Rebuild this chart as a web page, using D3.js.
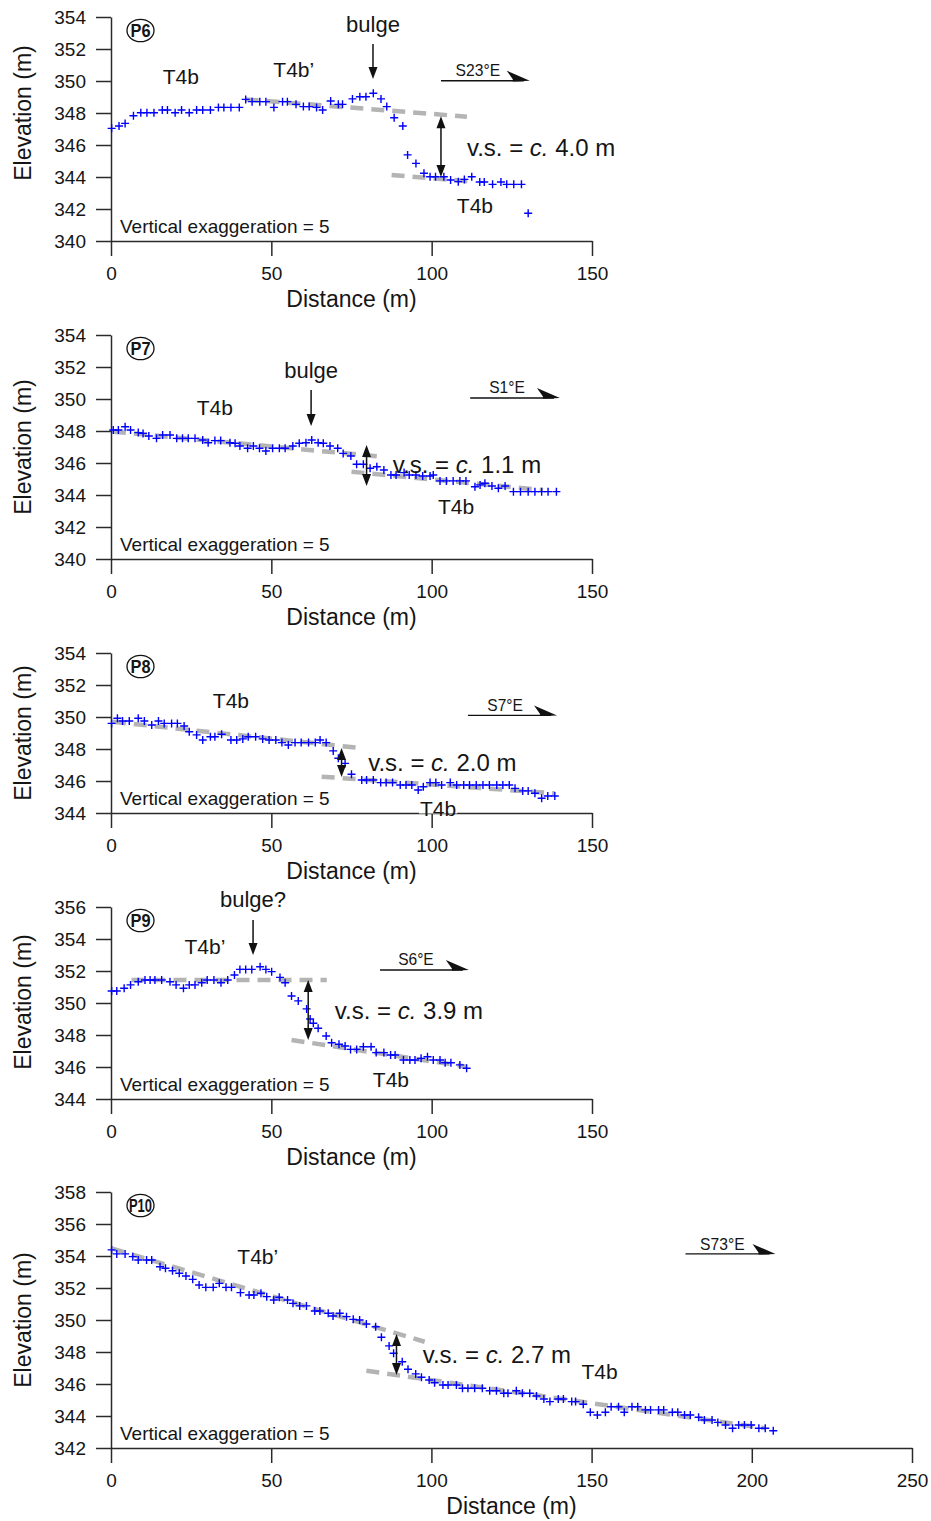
<!DOCTYPE html>
<html><head><meta charset="utf-8">
<script src="https://cdn.jsdelivr.net/npm/d3@7"></script>
<style>
body{margin:0;background:#fff}
svg{display:block}
text{font-family:"Liberation Sans",Arial,Helvetica,sans-serif;fill:#151515}
</style>
</head><body><svg id="c" width="931" height="1521"></svg>
<script>
// ---------------- DATA ----------------
const p6Points = [[0.2,347.04],[2.5,347.19],[4.4,347.35],[7,347.83],[9.3,348.02],[11.2,348.02],[13.4,348.02],[16,348.19],[17.6,348.19],[20,348.02],[22,348.19],[24.4,348.02],[26.7,348.19],[28.6,348.19],[31,348.19],[33.5,348.35],[35.2,348.35],[37.4,348.35],[40,348.35],[42,348.85],[44,348.71],[46.4,348.71],[48.3,348.71],[50.8,348.35],[53.5,348.71],[55,348.71],[57.7,348.54],[60,348.4],[61.8,348.4],[64.1,348.35],[66,348.19],[68.5,348.75],[70.9,348.54],[72.2,348.54],[75.3,348.88],[77.6,349.02],[79.5,349.02],[81.8,349.23],[84.2,348.88],[86,348.4],[88.3,347.7],[91,347.19],[92.5,345.38],[95.1,344.85],[97.6,344.23],[99.5,344.02],[101.2,344.02],[103.8,344.02],[105.9,343.81],[108.3,343.71],[110.2,343.85],[112.5,344.02],[115,343.69],[116.4,343.69],[119,343.54],[121.6,343.69],[123.4,343.54],[125.6,343.54],[128,343.54],[130.1,341.73]];
const p7Points = [[0.7,348.06],[2.3,348.06],[4.4,348.27],[6.1,348.06],[8.5,347.9],[10,347.85],[11.8,347.69],[14.2,347.54],[16.1,347.75],[18.4,347.75],[20.5,347.54],[22.3,347.54],[24.1,347.54],[26.2,347.54],[28.6,347.44],[30.3,347.27],[32.4,347.4],[34.2,347.4],[37.1,347.27],[38.7,347.23],[40.2,347.06],[42.6,346.92],[44.4,347.06],[46.3,346.92],[48.3,346.75],[50.4,346.92],[52.5,346.92],[54.3,346.92],[56.7,347.06],[58.7,347.23],[60.8,347.27],[62.6,347.44],[64.6,347.27],[66.2,347.23],[68.3,347.06],[70.7,346.92],[72.4,346.6],[74.8,346.44],[76.6,345.92],[78.7,345.92],[80.8,345.67],[82.9,345.77],[85.1,345.56],[87.3,345.25],[88.9,345.25],[91.4,345.4],[93,345.25],[95.1,345.25],[97.2,345.19],[99.5,345.19],[100.5,345.25],[102.6,344.88],[104.6,344.88],[106.7,344.88],[108.8,344.88],[110.7,344.88],[113.5,344.52],[115.1,344.63],[116.6,344.73],[118.8,344.56],[120.8,344.42],[122.9,344.56],[125.5,344.21],[127.7,344.21],[130.1,344.21],[132.2,344.21],[134.3,344.21],[136.3,344.21],[138.9,344.21]];
const p8Points = [[0.2,349.6],[2,349.92],[3.6,349.75],[5.7,349.75],[8.5,349.92],[10.4,349.75],[12.7,349.5],[14.8,349.75],[16.6,349.6],[18.9,349.6],[20.7,349.6],[22.8,349.44],[24.4,349.08],[26.7,348.88],[28.6,348.56],[31,348.77],[32.4,348.77],[34.5,348.92],[37.4,348.56],[39.2,348.56],[41.1,348.63],[42.8,348.77],[45.1,348.77],[47.3,348.63],[49.3,348.56],[51.4,348.56],[53.3,348.4],[55.3,348.25],[57.4,348.4],[59.3,348.4],[61.6,348.4],[63.7,348.4],[65.2,348.56],[67.1,348.4],[69.3,347.88],[70.9,347.42],[73,347.1],[75,346.42],[78.2,346.06],[79.7,346.06],[81.8,346.06],[84.1,345.9],[85.8,345.9],[87.8,345.9],[90.2,345.75],[92,345.75],[93.8,345.75],[95.8,345.44],[97.4,345.64],[99.5,345.9],[101.3,345.9],[103.1,345.75],[105.8,345.9],[107.8,345.75],[110,345.75],[111.8,345.75],[113.9,345.75],[116,345.75],[118,345.75],[120.3,345.75],[122.2,345.75],[124.2,345.75],[126,345.54],[128.4,345.38],[130.1,345.38],[132.2,345.23],[134.3,344.92],[136.2,345.06],[138.4,345.06]];
const p9Points = [[0.2,350.75],[1.8,350.75],[4.1,350.92],[6.1,351.13],[8.5,351.33],[10.6,351.44],[12.2,351.44],[13.7,351.44],[15.8,351.44],[18.4,351.33],[20.3,351.13],[22.6,350.92],[24.4,351.13],[26.2,351.13],[28.3,351.27],[30,351.44],[32.1,351.44],[34.3,351.27],[36.4,351.44],[38.5,351.75],[40.2,352.1],[42,352.1],[43.9,352.1],[46.5,352.27],[48.3,352.1],[50.1,351.96],[52.7,351.6],[54.3,351.27],[56.3,350.44],[58.4,350.13],[61,349.63],[62.1,349],[63.1,348.73],[64.6,348.42],[67.1,347.94],[68.8,347.52],[71.1,347.42],[73,347.31],[74.7,347.1],[76.6,347.1],[78.7,347.27],[81.1,347.27],[82.7,346.9],[85.1,346.9],[87.2,346.75],[88.6,346.75],[91.2,346.44],[93.2,346.44],[94.8,346.44],[96.7,346.54],[98.7,346.64],[100.5,346.44],[102.6,346.44],[104.2,346.27],[106,346.27],[108.8,346.13],[110.9,345.92]];
const p10Points = [[0.2,354.38],[1.8,354.13],[4.4,354.13],[6.8,353.96],[8.5,353.75],[11.1,353.75],[12.7,353.75],[15.3,353.33],[17,353.23],[19.2,353.08],[21.3,352.92],[23.4,352.75],[25.5,352.54],[27.5,352.19],[29.6,352.04],[31.9,352.04],[33.8,352.29],[35.9,352.04],[37.6,352.04],[40.4,351.71],[43.1,351.56],[44.6,351.56],[46.8,351.67],[48.6,351.46],[50.8,351.25],[52.5,351.42],[55.1,351.25],[56.8,351.04],[58.9,350.88],[61,350.88],[63.6,350.56],[65.2,350.56],[67.8,350.42],[69.3,350.25],[71.4,350.42],[73.5,350.21],[75.6,350.04],[77.6,350],[79.7,349.75],[82.6,349.58],[84.4,348.92],[86.8,348.38],[88.2,347.92],[90.9,347.39],[92.7,346.92],[95.1,346.63],[96.9,346.42],[99.3,346.25],[101,346.08],[103.6,345.94],[105.2,345.94],[107.8,345.94],[109.7,345.73],[111.4,345.73],[113.5,345.73],[115.9,345.73],[118.2,345.58],[120.3,345.58],[122.6,345.42],[123.9,345.42],[126.5,345.58],[128.4,345.42],[130.7,345.42],[132.8,345.25],[135.1,345.06],[137,344.9],[139.6,345.06],[141.2,345.06],[143.8,344.9],[145,344.9],[147.4,344.73],[149.6,344.23],[151.8,344.06],[154.3,344.23],[156.1,344.58],[158.4,344.58],[160.2,344.23],[162.6,344.58],[164.4,344.58],[166.8,344.38],[168.4,344.38],[170.9,344.38],[172.5,344.38],[175.2,344.23],[176.9,344.23],[179,344.06],[180.8,344.06],[183.4,343.92],[185.2,343.75],[187.6,343.75],[189.4,343.6],[191.8,343.44],[194,343.23],[195.9,343.44],[197.7,343.44],[199.8,343.44],[202.2,343.23],[204.2,343.23],[206.7,343.08]];

// fitted terrace lines [d1, e1, d2, e2]
const p6Lines = [[42,348.85,111,347.77],[87.5,344.13,113,343.71]];
const p7Lines = [[0.6,347.96,84,346.4],[75,345.46,134.7,344.31]];
const p8Lines = [[0.6,349.7,78.7,348.04],[65.7,346.27,138.4,345.23]];
const p9Lines = [[6.4,351.44,67.3,351.44],[56.3,347.69,110.9,346.02]];
const p10Lines = [[0.2,354.48,97.9,348.64],[79.7,346.83,204.4,343.23]];

// vertical separation values (m)
const vsValues = ["4.0","1.1","2.0","3.9","2.7"];
const bearings = ["S23°E","S1°E","S7°E","S6°E","S73°E"];
const profileNames = ["P6","P7","P8","P9","P10"];

// tick labels
const xTicks150 = [0,50,100,150];
const xTicks250 = [0,50,100,150,200,250];
const yTicksP6 = [340,342,344,346,348,350,352,354];
const yTicksP7 = [340,342,344,346,348,350,352,354];
const yTicksP8 = [344,346,348,350,352,354];
const yTicksP9 = [344,346,348,350,352,354,356];
const yTicksP10 = [342,344,346,348,350,352,354,356,358];

// ---------------- PANELS (layout + annotations in data coords) ----------------
const panels = [
  {name:profileNames[0], pts:p6Points, lines:p6Lines, xTicks:xTicks150, yTicks:yTicksP6, xMax:150, right:592, top:17, bottom:241, labelY:113,
   texts:[{t:"T4b",d:21.8,e:349.81,k:"term"},{t:"T4b’",d:57,e:350.25,k:"term"},{t:"bulge",d:81.7,e:353.09,k:"bulge"},{t:"T4b",d:113.5,e:341.72,k:"term"}],
   bulge:{d:81.7,e1:352.31,e2:350.13}, vs:{d:102.9,e1:347.8,e2:344.0,td:111,te:345.34,val:vsValues[0]},
   dir:{d1:102.9,d2:130.6,e:350.02,ld:114.4,le:350.33,t:bearings[0]}},
  {name:profileNames[1], pts:p7Points, lines:p7Lines, xTicks:xTicks150, yTicks:yTicksP7, xMax:150, right:592, top:335, bottom:559, labelY:447,
   texts:[{t:"T4b",d:32.4,e:349.03,k:"term"},{t:"bulge",d:62.4,e:351.34,k:"bulge"},{t:"T4b",d:107.6,e:342.84,k:"term"}],
   bulge:{d:62.4,e1:350.56,e2:348.31}, vs:{d:79.7,e1:347.13,e2:344.56,td:87.9,te:345.38,val:vsValues[1]},
   dir:{d1:112,d2:140,e:350.06,ld:123.5,le:350.38,t:bearings[1]}},
  {name:profileNames[2], pts:p8Points, lines:p8Lines, xTicks:xTicks150, yTicks:yTicksP8, xMax:150, right:592, top:653, bottom:813, labelY:733,
   texts:[{t:"T4b",d:37.4,e:350.59,k:"term"},{t:"T4b",d:102,e:343.8,k:"term",bg:true}],
   bulge:null, vs:{d:71.9,e1:348.06,e2:346.25,td:80.2,te:346.63,val:vsValues[2]},
   dir:{d1:111.3,d2:139.1,e:350.1,ld:122.9,le:350.4,t:bearings[2]}},
  {name:profileNames[3], pts:p9Points, lines:p9Lines, xTicks:xTicks150, yTicks:yTicksP9, xMax:150, right:592, top:907, bottom:1099, labelY:1002,
   texts:[{t:"bulge?",d:44.3,e:355.97,k:"bulge"},{t:"T4b’",d:29.3,e:353.09,k:"term"},{t:"T4b",d:87.3,e:344.78,k:"term"}],
   bulge:{d:44.3,e1:355.19,e2:353.0}, vs:{d:61.5,e1:351.44,e2:347.69,td:69.8,te:349.03,val:vsValues[3]},
   dir:{d1:83.9,d2:111.6,e:352.06,ld:95.1,le:352.38,t:bearings[3]}},
  {name:profileNames[4], pts:p10Points, lines:p10Lines, xTicks:xTicks250, yTicks:yTicksP10, xMax:250, right:912, top:1192, bottom:1448, labelY:1320,
   texts:[{t:"T4b’",d:45.8,e:353.47,k:"term"},{t:"T4b",d:152.5,e:346.34,k:"term"}],
   bulge:null, vs:{d:89.1,e1:349.13,e2:346.56,td:97.3,te:347.31,val:vsValues[4]},
   dir:{d1:179.3,d2:207.4,e:354.13,ld:190.8,le:354.38,t:bearings[4]}}
];

const svg = d3.select("#c");
const X0 = 111;
const AX = "#2a2a2a";

panels.forEach(p => {
  const yMin = p.yTicks[0], yMax = p.yTicks[p.yTicks.length-1];
  const x = d3.scaleLinear().domain([0,p.xMax]).range([X0,p.right]);
  const y = d3.scaleLinear().domain([yMin,yMax]).range([p.bottom,p.top]);
  const g = svg.append("g");

  // axes
  const ya = g.append("g").attr("transform",`translate(${X0},0)`)
    .call(d3.axisLeft(y).tickValues(p.yTicks).tickSize(15).tickSizeOuter(0).tickPadding(10).tickFormat(d3.format("d")));
  const xa = g.append("g").attr("transform",`translate(0,${p.bottom})`)
    .call(d3.axisBottom(x).tickValues(p.xTicks).tickSize(15).tickSizeOuter(0).tickPadding(11).tickFormat(d3.format("d")));
  [ya,xa].forEach(a=>{
    a.attr("font-family",null).attr("font-size",null);
    a.selectAll("path,line").attr("stroke",AX).attr("stroke-width",1.5);
    a.selectAll("text").attr("font-size",19).attr("fill","#151515");
  });

  // axis titles
  g.append("text").attr("x",(X0+p.right)/2).attr("y",p.bottom+66).attr("text-anchor","middle")
    .attr("font-size",23).text("Distance (m)");
  g.append("text").attr("transform",`translate(31,${p.labelY}) rotate(-90)`).attr("text-anchor","middle")
    .attr("font-size",23).text("Elevation (m)");

  // fitted dashed lines
  g.selectAll(".fit").data(p.lines).join("line")
    .attr("x1",d=>x(d[0])).attr("y1",d=>y(d[1])).attr("x2",d=>x(d[2])).attr("y2",d=>y(d[3]))
    .attr("stroke","#b4b4b4").attr("stroke-width",4.5).attr("stroke-dasharray","13,8");

  // points as "+"
  g.selectAll(".pt").data(p.pts).join("path")
    .attr("d",d=>{const px=x(d[0]),py=y(d[1]);return `M${px-4},${py}h8M${px},${py-4}v8`;})
    .attr("stroke","#0000ff").attr("stroke-width",1.4).attr("fill","none");

  // text labels
  p.texts.forEach(t=>{
    const tx = g.append("text").attr("x",x(t.d)).attr("y",y(t.e)).attr("text-anchor","middle")
      .attr("font-size",t.k==="bulge"?22:21).text(t.t);
    if(t.bg){
      const b = tx.node().getBBox();
      g.insert("rect",()=>tx.node()).attr("x",b.x-1).attr("y",b.y+2).attr("width",b.width+2).attr("height",p.bottom-b.y-1.5).attr("fill","#fff");
    }
  });

  // bulge arrow
  if(p.bulge){
    const bx=x(p.bulge.d), by1=y(p.bulge.e1), by2=y(p.bulge.e2);
    g.append("line").attr("x1",bx).attr("x2",bx).attr("y1",by1).attr("y2",by2-8).attr("stroke","#111").attr("stroke-width",1.5);
    g.append("path").attr("d",`M${bx},${by2}L${bx-4.5},${by2-12}L${bx+4.5},${by2-12}Z`).attr("fill","#111");
  }

  // vertical separation arrow
  const v=p.vs, vx=x(v.d), vy1=y(v.e1), vy2=y(v.e2);
  g.append("line").attr("x1",vx).attr("x2",vx).attr("y1",vy1+8).attr("y2",vy2-8).attr("stroke","#111").attr("stroke-width",1.5);
  g.append("path").attr("d",`M${vx},${vy1}L${vx-4.5},${vy1+12}L${vx+4.5},${vy1+12}Z`).attr("fill","#111");
  g.append("path").attr("d",`M${vx},${vy2}L${vx-4.5},${vy2-12}L${vx+4.5},${vy2-12}Z`).attr("fill","#111");
  const vt = g.append("text").attr("x",x(v.td)).attr("y",y(v.te)).attr("font-size",24);
  vt.append("tspan").text("v.s. = ");
  vt.append("tspan").attr("font-style","italic").text("c.");
  vt.append("tspan").text(" "+v.val+" m");

  // direction arrow
  const dr=p.dir, dx1=x(dr.d1), dx2=x(dr.d2), dy=y(dr.e);
  g.append("line").attr("x1",dx1).attr("x2",dx2-6).attr("y1",dy).attr("y2",dy).attr("stroke","#111").attr("stroke-width",1.4);
  g.append("path").attr("d",`M${dx2},${dy}L${dx2-23},${dy-10}L${dx2-17},${dy-1.5}L${dx2-17},${dy+0.7}Z`).attr("fill","#111");
  g.append("text").attr("x",x(dr.ld)).attr("y",y(dr.le)).attr("text-anchor","middle").attr("font-size",16.5)
    .attr("textLength",dr.t.length*8.9).attr("lengthAdjust","spacingAndGlyphs").text(dr.t);

  // vertical exaggeration note
  g.append("text").attr("x",X0+9).attr("y",p.bottom-8.5).attr("font-size",19).text("Vertical exaggeration = 5");

  // circled profile id
  const cx=X0+29.5, cy=p.top+13.5;
  g.append("ellipse").attr("cx",cx).attr("cy",cy).attr("rx",13.5).attr("ry",11.2).attr("fill","#fff").attr("stroke","#111").attr("stroke-width",1.3);
  g.append("text").attr("x",cx).attr("y",cy+6.5).attr("text-anchor","middle").attr("font-size",18.5).attr("font-weight","bold")
    .attr("font-family","'Liberation Sans Narrow','Liberation Sans',Arial,sans-serif")
    .attr("textLength",p.name.length===2?20:23).attr("lengthAdjust","spacingAndGlyphs").text(p.name);
});
</script></body></html>
